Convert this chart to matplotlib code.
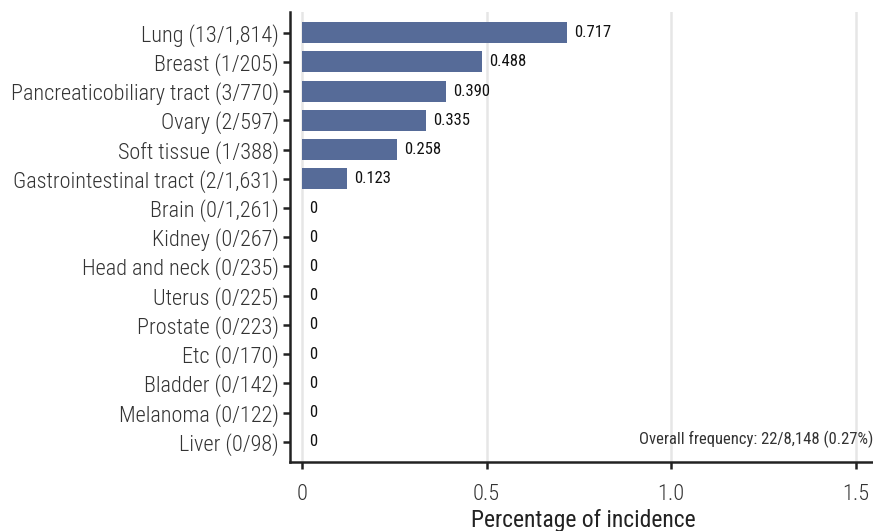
import matplotlib
matplotlib.use("Agg")
import matplotlib.pyplot as plt

plt.rcParams['font.family'] = ['Roboto Condensed', 'Liberation Sans', 'DejaVu Sans']

# 癌种、病例数与发生率
sites = ["Lung", "Breast", "Pancreaticobiliary tract", "Ovary", "Soft tissue",
         "Gastrointestinal tract", "Brain", "Kidney", "Head and neck", "Uterus",
         "Prostate", "Etc", "Bladder", "Melanoma", "Liver"]
cases = ["13/1,814", "1/205", "3/770", "2/597", "1/388", "2/1,631", "0/1,261",
         "0/267", "0/235", "0/225", "0/223", "0/170", "0/142", "0/122", "0/98"]
rates = [0.717, 0.488, 0.390, 0.335, 0.258, 0.123, 0, 0, 0, 0, 0, 0, 0, 0, 0]
rate_labels = ["0.717", "0.488", "0.390", "0.335", "0.258", "0.123",
               "0", "0", "0", "0", "0", "0", "0", "0", "0"]
xticks = [0, 0.5, 1.0, 1.5]
xtick_labels = ["0", "0.5", "1.0", "1.5"]

ylabels = [f"{s} ({c})" for s, c in zip(sites, cases)]
pos = list(range(len(sites)))

fig = plt.figure(figsize=(8.73, 5.31), dpi=100)
ax = fig.add_axes([0.332, 0.13, 0.672, 0.848])

ax.barh(pos, rates, height=0.72, color="#566b98", zorder=3)
for p, r, lab in zip(pos, rates, rate_labels):
    ax.annotate(lab, (r, p), xytext=(5, 0), textcoords="offset points",
                ha="left", va="center", fontsize=12, fontweight="normal",
                color="#111111", zorder=4)

ax.set_yticks(pos)
ax.set_yticklabels(ylabels, fontsize=16, fontweight="light", color="#333333")
ax.set_xticks(xticks)
ax.set_xticklabels(xtick_labels, fontsize=16, fontweight="light", color="#333333")
ax.set_xlim(-0.033, 1.556)
ax.set_ylim(14.69, -0.72)

ax.xaxis.grid(True, color="#e6e6e6", linewidth=1.8, zorder=0)
ax.set_axisbelow(True)
ax.tick_params(axis="both", length=5, width=1.8, color="#222222")
ax.tick_params(axis="y", pad=3)
ax.tick_params(axis="x", pad=11)
for side in ["top", "right"]:
    ax.spines[side].set_visible(False)
for side in ["left", "bottom"]:
    ax.spines[side].set_linewidth(1.8)
    ax.spines[side].set_color("#222222")

ax.set_xlabel("Percentage of incidence", fontsize=17, color="#222222", labelpad=3)
ax.text(1.548, 13.9, "Overall frequency: 22/8,148 (0.27%)", ha="right", va="center",
        fontsize=12, color="#333333")

fig.savefig("out.png", dpi=100)
